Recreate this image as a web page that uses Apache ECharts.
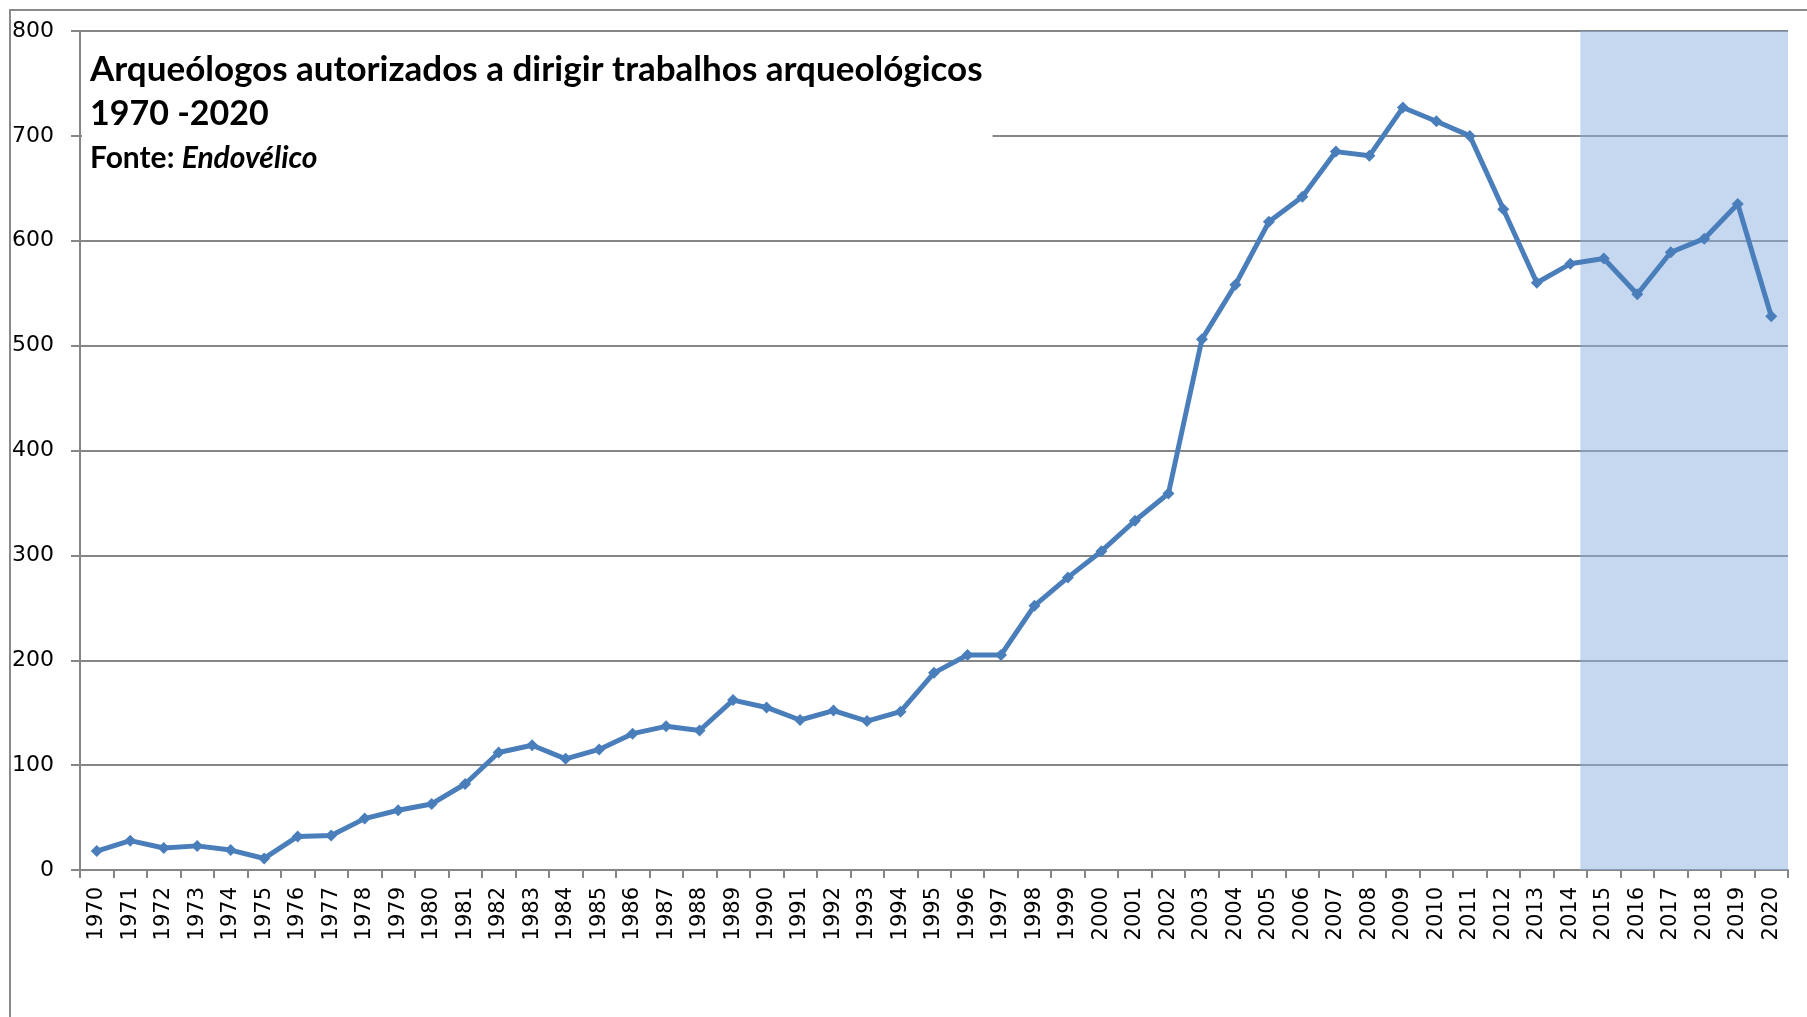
<!DOCTYPE html>
<html>
<head>
<meta charset="utf-8">
<script src="https://cdn.jsdelivr.net/npm/echarts@6/dist/echarts.min.js"></script>
<style>
  html, body { margin: 0; padding: 0; background: #fff; }
  .frame { position: absolute; left: 9px; top: 9px; width: 1820px; height: 1030px;
           border-left: 2px solid #8a8a8a; border-top: 2px solid #8a8a8a; }
  .chart { position: absolute; left: 0; top: 0; width: 1807px; height: 1017px; }
</style>
</head>
<body>
<div class="frame"></div>
<div class="chart"></div>
<script>
// dados
var years = [];
for (var y = 1970; y <= 2020; y++) years.push(String(y));
var archaeologists = [
  18, 28, 21, 23, 19, 11, 32, 33, 49, 57,
  63, 82, 112, 119, 106, 115, 130, 137, 133, 162,
  155, 143, 152, 142, 151, 188, 205, 205, 252, 279,
  304, 333, 359, 506, 558, 618, 642, 685, 681, 727,
  714, 700, 630, 560, 578, 583, 549, 589, 602, 635,
  528
];
var yTicks = [0, 100, 200, 300, 400, 500, 600, 700, 800];
var shadeFrom = '2015';
var shadeTo = '2020';

var lineColor = '#4A7EBB';
var gridColor = '#868686';

var myChart = echarts.init(document.querySelector(".chart"));
var option = {
  animation: false,
  title: {
    left: 82,
    top: 42,
    padding: [6, 10, 10, 8],
    backgroundColor: '#fff',
    text: '{a|Arqueólogos autorizados a dirigir trabalhos arqueológicos}\n{d|1970 -2020}\n{b|Fonte: }{c|Endovélico}',
    textStyle: {
      rich: {
        a: { fontFamily: 'Lato', fontWeight: 'bold', fontSize: 35, color: '#000', lineHeight: 44 },
        d: { fontFamily: 'Lato', fontWeight: 'bold', fontSize: 34, color: '#000', lineHeight: 44 },
        b: { fontFamily: 'Lato', fontWeight: 'bold', fontSize: 30, color: '#000', lineHeight: 44 },
        c: { fontFamily: 'Lato', fontWeight: 'bold', fontStyle: 'italic', fontSize: 30, color: '#000', lineHeight: 44 }
      }
    }
  },
  grid: { left: 80, right: 19, top: 31, bottom: 147, containLabel: false },
  xAxis: [{
    type: 'category',
    data: years,
    boundaryGap: true,
    axisLine: { lineStyle: { color: gridColor, width: 2 } },
    axisTick: { show: true, interval: 0, length: 8, lineStyle: { color: gridColor, width: 2 } },
    axisLabel: {
      interval: 0, rotate: 90, margin: 17,
      fontFamily: 'DejaVu Sans', fontSize: 21, color: '#000'
    }
  }, {
    // eixo auxiliar para a zona sombreada
    type: 'value',
    min: 0,
    max: years.length,
    show: false
  }],
  yAxis: {
    type: 'value',
    min: yTicks[0],
    max: yTicks[yTicks.length - 1],
    interval: yTicks[1] - yTicks[0],
    axisLine: { show: true, lineStyle: { color: gridColor, width: 2 } },
    axisTick: { show: true, length: 9, lineStyle: { color: gridColor, width: 2 } },
    splitLine: { lineStyle: { color: gridColor, width: 2 } },
    axisLabel: { margin: 26, fontFamily: 'DejaVu Sans', fontSize: 22, color: '#000' }
  },
  series: [{
    type: 'line',
    data: archaeologists,
    symbol: 'diamond',
    symbolSize: 12,
    lineStyle: { color: lineColor, width: 5 },
    itemStyle: { color: lineColor },
    z: 2
  }, {
    type: 'line',
    xAxisIndex: 1,
    data: [],
    z: 5,
    silent: true,
    markArea: {
      silent: true,
      itemStyle: { color: 'rgba(141,177,225,0.5)' },
      data: [[{ xAxis: years.indexOf(shadeFrom) - 0.2 }, { xAxis: years.indexOf(shadeTo) + 1 }]]
    }
  }]
};
myChart.setOption(option);
</script>
</body>
</html>
